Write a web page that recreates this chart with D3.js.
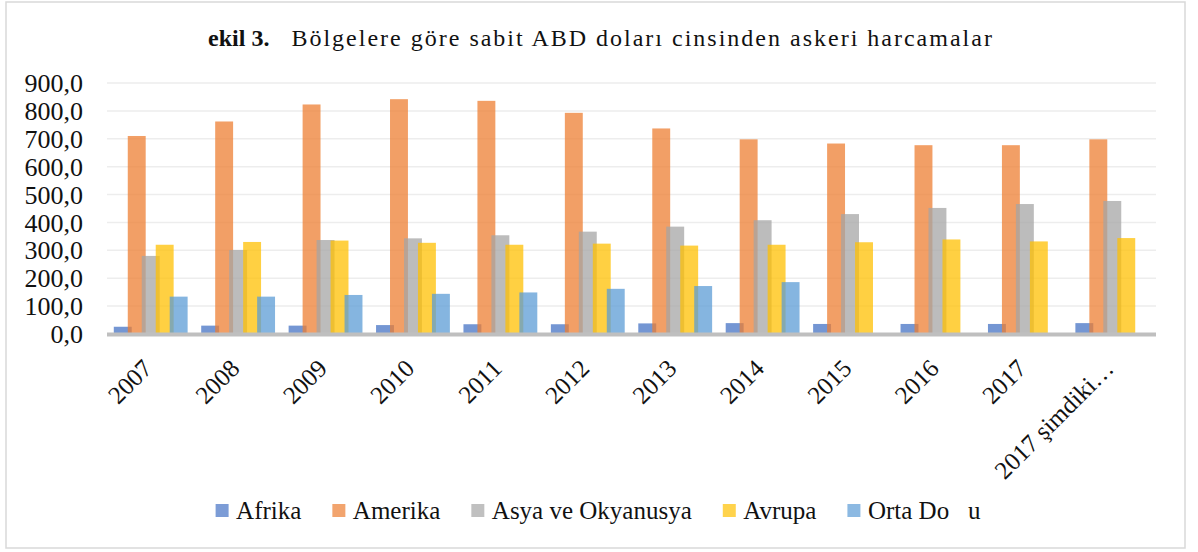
<!DOCTYPE html>
<html>
<head>
<meta charset="utf-8">
<script src="https://cdn.jsdelivr.net/npm/d3@7"></script>
<style>
  body { margin: 0; background: #fff; }
  svg { display: block; font-family: 'Liberation Serif', 'Times New Roman', serif; }
</style>
</head>
<body>
<svg></svg>
<script>
const WIDTH = 1198;
const HEIGHT = 552;

// Values (constant US dollars, billions).
const categories = ['2007', '2008', '2009', '2010', '2011', '2012', '2013', '2014', '2015', '2016', '2017', '2017 şimdiki…'];
const afrika = [26, 30, 30, 32, 35, 35, 38, 39, 36, 36, 36, 39];
const amerika = [710, 762, 823, 842, 836, 793, 737, 698, 683, 677, 677, 698];
const asya = [280, 301, 337, 343, 354, 367, 385, 408, 430, 452, 466, 477];
const avrupa = [320, 330, 335, 327, 320, 324, 317, 320, 329, 339, 332, 344];
const ortaDogu = [134, 134, 140, 144, 149, 162, 172, 186, null, null, null, null];

const seriesNames = ['Afrika', 'Amerika', 'Asya ve Okyanusya', 'Avrupa', 'Orta Do\u00a0\u00a0\u00a0u'];
const seriesColors = ['#4472c4', '#ed7d31', '#a5a5a5', '#ffc000', '#5b9bd5'];
const seriesValues = [afrika, amerika, asya, avrupa, ortaDogu];
const yTicks = [0, 100, 200, 300, 400, 500, 600, 700, 800, 900];

const fmt = d => d3.format('.1f')(d).replace('.', ',');

const svg = d3.select('svg')
  .attr('width', WIDTH)
  .attr('height', HEIGHT)
  .attr('viewBox', `0 0 ${WIDTH} ${HEIGHT}`);

// Chart border.
svg.append('rect')
  .attr('x', 6).attr('y', 2)
  .attr('width', 1179).attr('height', 546)
  .attr('fill', '#fff')
  .attr('stroke', '#d9d9d9')
  .attr('stroke-width', 1.5);

// Title.
const title = svg.append('text')
  .attr('x', 601)
  .attr('y', 46)
  .attr('text-anchor', 'middle')
  .attr('font-size', 24)
  .attr('fill', '#111');
title.append('tspan').attr('font-weight', 'bold').text('ekil 3.');
title.append('tspan').attr('dx', 22).attr('letter-spacing', 2).text('Bölgelere göre sabit ABD doları cinsinden askeri harcamalar');

const x0 = d3.scaleBand().domain(categories).range([107, 1156]);
const y = d3.scaleLinear().domain([0, 900]).range([334, 83]);

// Gridlines.
svg.append('g')
  .selectAll('line')
  .data(yTicks.filter(d => d > 0))
  .join('line')
  .attr('x1', 107).attr('x2', 1156)
  .attr('y1', d => y(d)).attr('y2', d => y(d))
  .attr('stroke', '#ededed')
  .attr('stroke-width', 1.5);

// Y labels.
svg.append('g')
  .selectAll('text')
  .data(yTicks)
  .join('text')
  .attr('x', 83)
  .attr('y', d => y(d))
  .attr('dy', '0.35em')
  .attr('text-anchor', 'end')
  .attr('font-size', 26)
  .attr('fill', '#111')
  .text(fmt);

// Bars: slightly overlapping, semi-transparent like the Excel original.
const barW = x0.bandwidth() * 0.205;
const step = barW * 0.78;
const groupW = step * (seriesNames.length - 1) + barW;
const offset = (x0.bandwidth() - groupW) / 2;

seriesValues.forEach((values, si) => {
  svg.append('g')
    .selectAll('rect')
    .data(values.map((v, i) => ({cat: categories[i], v})).filter(d => d.v != null))
    .join('rect')
    .attr('x', d => x0(d.cat) + offset + si * step)
    .attr('y', d => y(d.v))
    .attr('width', barW)
    .attr('height', d => y(0) - y(d.v))
    .attr('fill', seriesColors[si])
    .attr('fill-opacity', 0.74);
});

// Category axis line.
svg.append('line')
  .attr('x1', 107).attr('x2', 1156)
  .attr('y1', y(0) + 0.5).attr('y2', y(0) + 0.5)
  .attr('stroke', '#bfbfbf')
  .attr('stroke-width', 4);

// X labels, rotated.
svg.append('g')
  .selectAll('text')
  .data(categories)
  .join('text')
  .attr('transform', d => `translate(${x0(d) + x0.bandwidth() / 2 + 3},${370}) rotate(-45)`)
  .attr('text-anchor', 'end')
  .attr('font-size', 25)
  .attr('fill', '#111')
  .text(d => d);

// Legend.
const legend = svg.append('g');
const items = legend.selectAll('g')
  .data(seriesNames)
  .join('g');
items.append('rect')
  .attr('width', 13).attr('height', 13)
  .attr('y', 504)
  .attr('fill', (d, i) => seriesColors[i])
  .attr('fill-opacity', 0.7);
items.append('text')
  .attr('x', 20.5)
  .attr('y', 519)
  .attr('font-size', 25)
  .attr('fill', '#111')
  .text(d => d);

let cursor = 0;
const positions = [];
items.each(function () {
  const w = d3.select(this).select('text').node().getComputedTextLength();
  positions.push(cursor);
  cursor += 20.5 + w + 31;
});
const totalW = cursor - 31;
const startX = 598 - totalW / 2;
items.attr('transform', (d, i) => `translate(${startX + positions[i]},0)`);
</script>
</body>
</html>
